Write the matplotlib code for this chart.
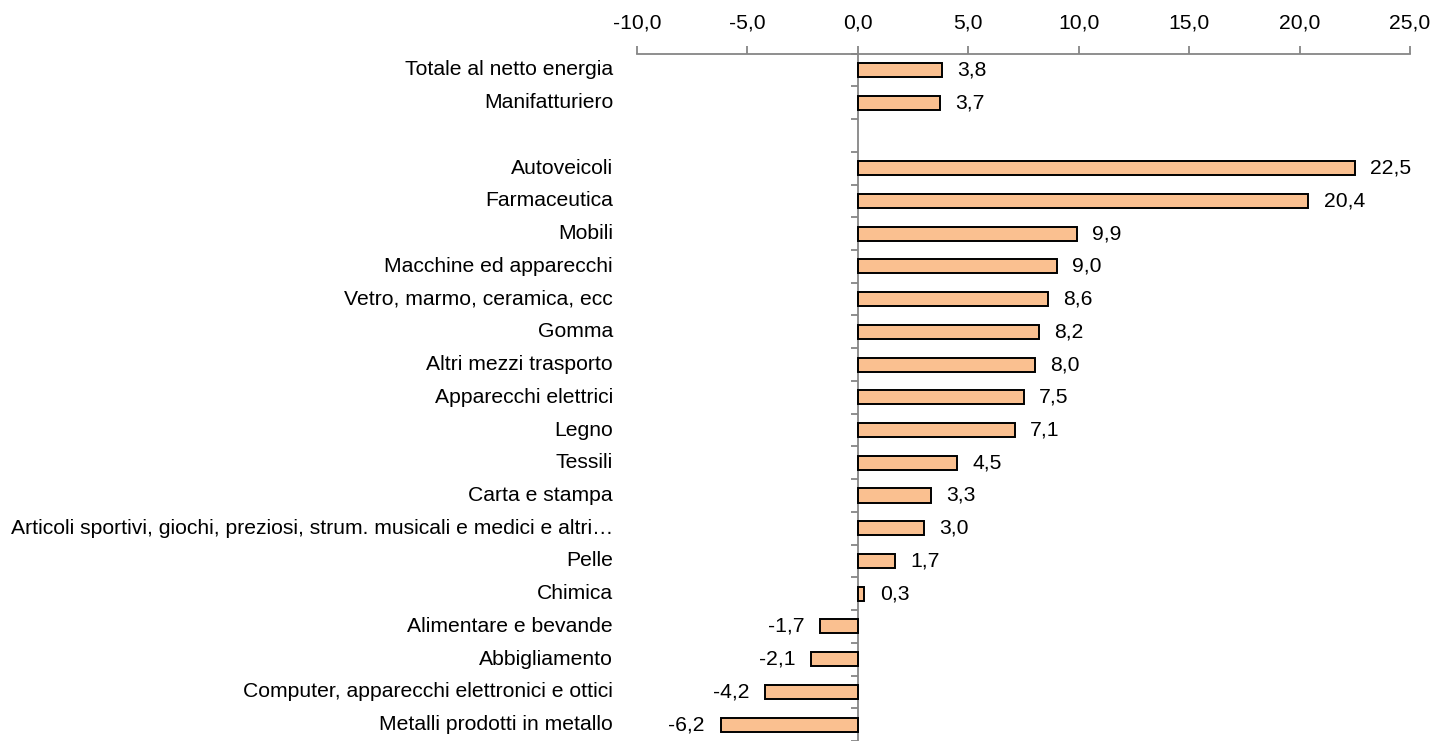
import matplotlib
matplotlib.use("Agg")
import matplotlib.pyplot as plt
from matplotlib.ticker import FixedLocator, FuncFormatter
import matplotlib.transforms as mtransforms
import numpy as np

plt.rcParams["font.family"] = ["Liberation Sans Narrow", "Liberation Sans", "DejaVu Sans"]

categories = [
    "Totale al netto energia",
    "Manifatturiero",
    "",
    "Autoveicoli",
    "Farmaceutica",
    "Mobili",
    "Macchine ed apparecchi",
    "Vetro, marmo, ceramica, ecc",
    "Gomma",
    "Altri mezzi trasporto",
    "Apparecchi elettrici",
    "Legno",
    "Tessili",
    "Carta e stampa",
    "Articoli sportivi, giochi, preziosi, strum. musicali e medici e altri…",
    "Pelle",
    "Chimica",
    "Alimentare e bevande",
    "Abbigliamento",
    "Computer, apparecchi elettronici e ottici",
    "Metalli prodotti in metallo",
]
values = [3.8, 3.7, None, 22.5, 20.4, 9.9, 9.0, 8.6, 8.2, 8.0, 7.5, 7.1,
          4.5, 3.3, 3.0, 1.7, 0.3, -1.7, -2.1, -4.2, -6.2]
x_ticks = [-10, -5, 0, 5, 10, 15, 20, 25]

BAR_COLOR = "#FAC090"
AXIS_COLOR = "#868686"


def fmt_it(v, _pos=None):
    return f"{v:.1f}".replace(".", ",")


fig = plt.figure(figsize=(14.35, 7.41), dpi=100)
ax = fig.add_axes([637 / 1435, 0.0, (1410 - 637) / 1435, 1 - 53.6 / 741])

n = len(categories)
pos = np.arange(n)
for i, v in enumerate(values):
    if v is None:
        continue
    ax.barh(pos[i], v, height=0.43, color=BAR_COLOR, edgecolor="black", linewidth=1.4, zorder=3)
    if v >= 0:
        ax.annotate(fmt_it(v), (v, pos[i]), xytext=(11, 0), textcoords="offset points",
                    ha="left", va="center", fontsize=15.2)
    else:
        ax.annotate(fmt_it(v), (v, pos[i]), xytext=(-11.5, 0), textcoords="offset points",
                    ha="right", va="center", fontsize=15.2)

ax.set_xlim(-10, 25)
ax.set_ylim(n - 0.5, -0.5)

# x axis on top
ax.xaxis.set_ticks_position("top")
ax.xaxis.set_major_locator(FixedLocator(x_ticks))
ax.xaxis.set_major_formatter(FuncFormatter(fmt_it))
ax.tick_params(axis="x", direction="out", length=6, width=1.3, color=AXIS_COLOR,
               labelsize=15.2, pad=9)

# y axis drawn at zero, ticks at category boundaries
ax.spines["left"].set_position(("data", 0))
ax.yaxis.set_major_locator(FixedLocator(np.arange(n + 1) - 0.5))
ax.yaxis.set_major_formatter(FuncFormatter(lambda v, p: ""))
ax.tick_params(axis="y", direction="out", length=5, width=1.3, color=AXIS_COLOR)

for side in ["right", "bottom"]:
    ax.spines[side].set_visible(False)
for side in ["left", "top"]:
    ax.spines[side].set_color(AXIS_COLOR)
    ax.spines[side].set_linewidth(1.3)

# category names to the left of the plot area
trans = mtransforms.blended_transform_factory(ax.transAxes, ax.transData)
for i, name in enumerate(categories):
    ax.text(-0.031, pos[i], name, transform=trans, ha="right", va="center", fontsize=15.2)

fig.savefig("out.png", dpi=100)
